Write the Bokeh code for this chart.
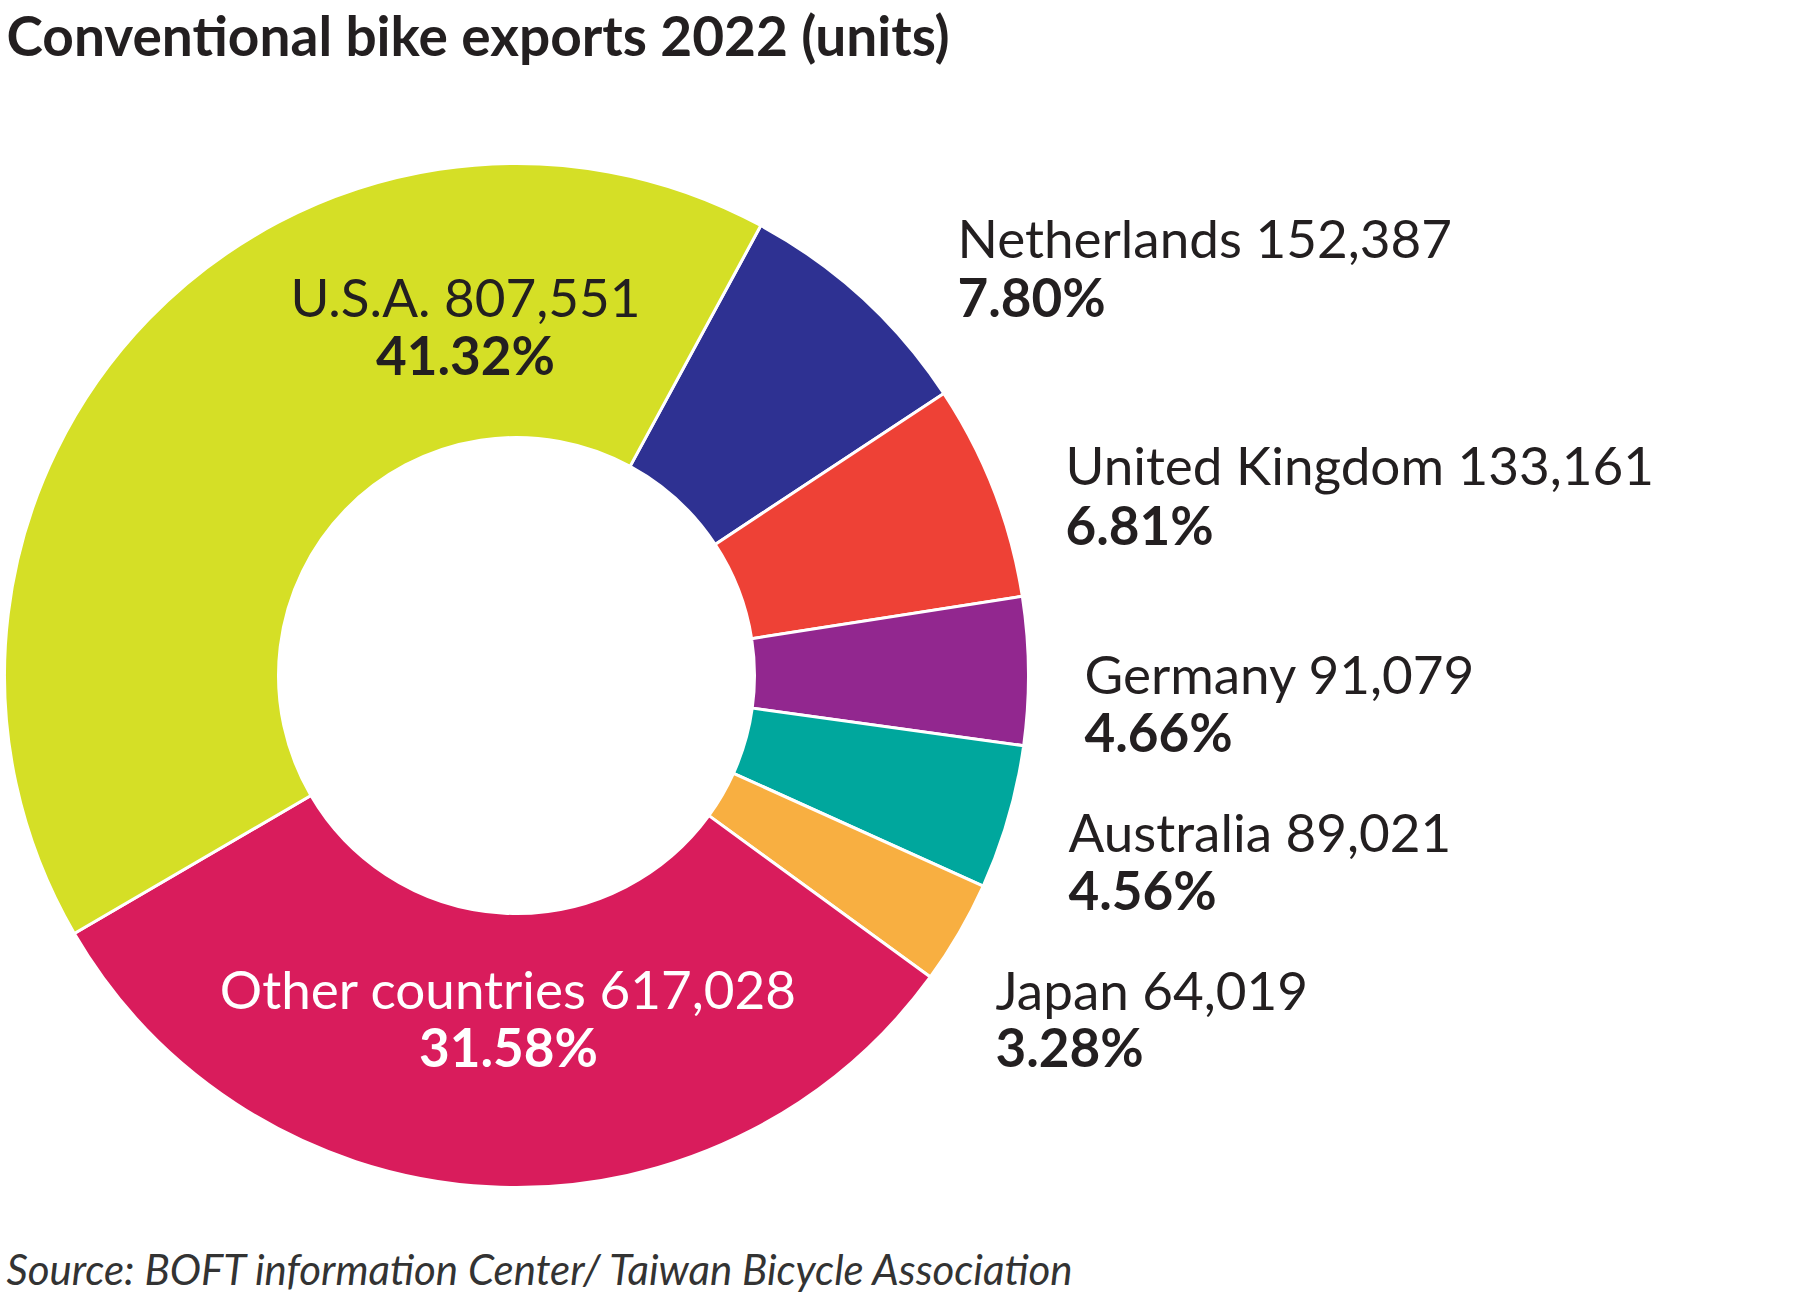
import math
from bokeh.plotting import figure
from bokeh.models import ColumnDataSource, Range1d
from bokeh.core.properties import value
from bokeh.embed import file_html
from bokeh.resources import INLINE

# ---- data ----
countries = ["Netherlands", "United Kingdom", "Germany", "Australia", "Japan", "Other countries", "U.S.A."]
units = [152387, 133161, 91079, 89021, 64019, 617028, 807551]
shares = ["7.80%", "6.81%", "4.66%", "4.56%", "3.28%", "31.58%", "41.32%"]
colors = ["#2E3192", "#EE4136", "#92278F", "#00A79D", "#F8AF41", "#D91C5C", "#D5DF26"]
title = "Conventional bike exports 2022 (units)"
source_note = "Source: BOFT information Center/ Taiwan Bicycle Association"

# ---- layout (screen pixels, y measured from top) ----
W, H = 1795, 1292
CX, CY = 516, 675
R_OUT, R_IN = 512, 238
START_DEG = 28.5  # clockwise from 12 o'clock

# label anchors: (x, line1 y, line2 y, align, colour)
label_pos = [
    (957, 237, 296, "left", "#231F20"),
    (1065, 464, 524, "left", "#231F20"),
    (1084, 673, 731, "left", "#231F20"),
    (1068, 831, 889, "left", "#231F20"),
    (995, 989, 1046, "left", "#231F20"),
    (508, 988, 1046, "center", "#FFFFFF"),
    (465, 296, 354, "center", "#231F20"),
]

total = sum(units)
starts, ends = [], []
acc = START_DEG
for u in units:
    a0 = acc
    a1 = acc + 360.0 * u / total
    starts.append(math.radians(90 - a0))
    ends.append(math.radians(90 - a1))
    acc = a1

src = ColumnDataSource(dict(start=starts, end=ends, color=colors))

p = figure(width=W, height=H, x_range=Range1d(0, W), y_range=Range1d(0, H),
           output_backend="svg", toolbar_location=None, min_border=0)
p.axis.visible = False
p.grid.visible = False
p.outline_line_color = None
p.background_fill_color = "white"
p.border_fill_color = "white"

p.annular_wedge(x=CX, y=H - CY, inner_radius=R_IN, outer_radius=R_OUT,
                start_angle="start", end_angle="end", direction="clock",
                fill_color="color", line_color="white", line_width=3, source=src)

FONT = "Lato"
l1 = dict(x=[], y=[], text=[], align=[], color=[])
l2 = dict(x=[], y=[], text=[], align=[], color=[])
for name, u, s, (x, b1, b2, al, col) in zip(countries, units, shares, label_pos):
    l1["x"].append(x); l1["y"].append(H - b1); l1["text"].append(f"{name} {u:,}")
    l1["align"].append(al); l1["color"].append(col)
    l2["x"].append(x); l2["y"].append(H - b2); l2["text"].append(s)
    l2["align"].append(al); l2["color"].append(col)

p.text(x="x", y="y", text="text", text_align="align", text_color="color",
       text_baseline="alphabetic", text_font=value(FONT), text_font_size="53px",
       source=ColumnDataSource(l1))
p.text(x="x", y="y", text="text", text_align="align", text_color="color",
       text_baseline="alphabetic", text_font=value(FONT), text_font_size="53px",
       text_font_style="bold", source=ColumnDataSource(l2))

p.text(x=[6], y=[H - 34], text=[title], text_align="left", text_baseline="alphabetic",
       text_font=value(FONT), text_font_size="55px", text_font_style="bold",
       text_color="#231F20")
p.text(x=[6], y=[H - 1268], text=[source_note], text_align="left", text_baseline="alphabetic",
       text_font=value(FONT), text_font_size="42px", text_font_style="italic",
       text_color="#333333")

open("out.html", "w").write(file_html(p, INLINE))
